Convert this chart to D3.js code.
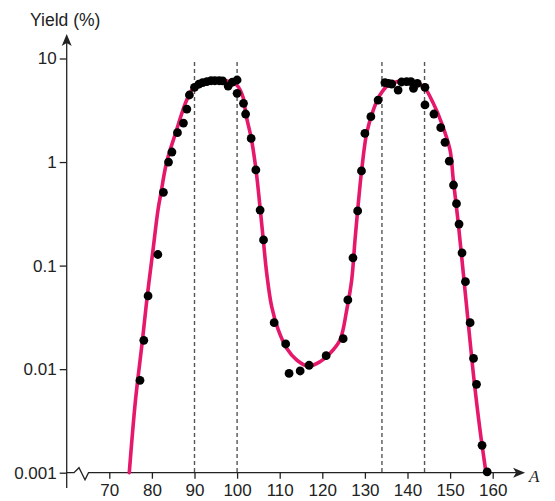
<!DOCTYPE html>
<html>
<head>
<meta charset="utf-8">
<script src="https://cdn.jsdelivr.net/npm/d3@7"></script>
<style>
  html, body { margin: 0; padding: 0; background: #fff; }
  svg { display: block; }
  text { font-family: "Liberation Sans", Arial, sans-serif; fill: #222; }
</style>
</head>
<body>
<svg id="chart" width="555" height="501"></svg>
<script>
// Fission-product mass yield: measured points and fitted curve
const dotA = [77.2, 78.1, 79.1, 81.4, 82.7, 83.9, 84.7, 86.0, 87.4, 88.2, 88.8,
  90.0, 91.0, 91.9, 92.9, 93.9, 94.8, 95.8, 96.6, 97.9, 98.9, 100.0,
  100.0, 101.5, 102.0, 103.3, 104.4, 105.4, 106.2, 108.7, 111.4, 112.2,
  114.8, 116.9, 120.9, 124.9, 126.0, 127.2, 128.3, 129.2, 130.0, 131.4,
  133.1, 134.7, 135.5, 136.3, 137.8, 138.6, 139.8, 140.8, 141.4, 142.3,
  144.1, 144.1, 146.2, 147.8, 148.8, 149.8, 150.8, 151.5, 152.1, 152.8,
  153.6, 154.7, 155.5, 156.2, 157.5, 158.7];
const dotYield = [0.0078, 0.019, 0.051, 0.128, 0.51, 1.0, 1.25, 1.92, 2.38, 3.25, 4.44,
  5.27, 5.64, 5.84, 5.97, 6.1, 6.1, 6.1, 6.07, 5.42, 5.9, 6.2,
  4.61, 3.69, 2.91, 1.69, 0.84, 0.344, 0.177, 0.0281, 0.0175, 0.0091,
  0.0096, 0.0109, 0.0135, 0.0197, 0.0466, 0.119, 0.337, 0.82, 1.89, 2.74,
  3.97, 5.84, 5.76, 5.67, 4.96, 5.93, 5.97, 5.97, 5.15, 5.76,
  5.27, 3.56, 2.91, 2.15, 1.55, 1.02, 0.60, 0.396, 0.252, 0.133,
  0.070, 0.0281, 0.0127, 0.00714, 0.00184, 0.00102];

const curveA = [74.69, 76.15, 77.79, 78.92, 80.14, 81.43, 82.14, 83.47, 85.59, 88.17,
  89.88, 92.86, 95.99, 98.33, 99.91, 101.38, 102.09, 103.33, 104.44, 105.45,
  106.15, 106.95, 108.12, 109.67, 111.64, 113.99, 116.71, 119.46, 121.81, 124.15,
  125.73, 126.9, 127.68, 128.35, 129.25, 130.42, 131.97, 133.54, 135.49, 137.46,
  139.81, 142.16, 144.1, 146.06, 148.03, 149.98, 150.75, 151.92, 153.1, 154.27,
  155.45, 157.02, 158.43];
const curveYield = [0.001, 0.00503, 0.0191, 0.0512, 0.129, 0.344, 0.506, 1.0, 1.92, 3.97,
  5.27, 5.97, 6.2, 5.97, 5.55, 4.25, 2.85, 1.69, 0.84, 0.344,
  0.177, 0.0843, 0.0401, 0.0239, 0.0159, 0.01225, 0.0107, 0.0118, 0.0142, 0.0191,
  0.0372, 0.0726, 0.177, 0.36, 0.84, 1.9, 3.18, 4.44, 5.55, 5.97,
  6.2, 5.84, 5.15, 3.69, 2.37, 1.31, 0.67, 0.256, 0.0843, 0.0277,
  0.0091, 0.00258, 0.001];

// Mass-number bounds marking the two peak regions
const peakBounds = [90, 100, 134, 144];

const xTicks = [70, 80, 90, 100, 110, 120, 130, 140, 150, 160];
const yTicks = [10, 1, 0.1, 0.01, 0.001];
const yTickLabels = ["10", "1", "0.1", "0.01", "0.001"];

const svg = d3.select("#chart");

const x = d3.scaleLinear().domain([60, 160]).range([66.7, 492.7]);
const y = d3.scaleLog().domain([0.001, 10]).range([472.7, 58.5]);

const axisColor = "#222";
const x0 = x(60), yBase = y(0.001);

// dashed peak-boundary guides
svg.append("g")
  .selectAll("line")
  .data(peakBounds)
  .join("line")
  .attr("x1", d => x(d)).attr("x2", d => x(d))
  .attr("y1", 62).attr("y2", yBase)
  .attr("stroke", "#555")
  .attr("stroke-width", 1.4)
  .attr("stroke-dasharray", "4,3");

// y axis
const yAxis = d3.axisLeft(y)
  .tickValues(yTicks)
  .tickFormat((d, i) => yTickLabels[i])
  .tickSize(7)
  .tickPadding(3);
const gy = svg.append("g").attr("transform", `translate(${x0},0)`).call(yAxis);
gy.select(".domain").remove();
gy.selectAll(".tick line").attr("stroke", axisColor).attr("stroke-width", 1.3);
gy.selectAll(".tick text")
  .attr("font-size", 17)
  .attr("font-family", "Liberation Sans, Arial, sans-serif")
  .attr("fill", "#222");

svg.append("line")
  .attr("x1", x0).attr("x2", x0)
  .attr("y1", 40).attr("y2", 488)
  .attr("stroke", axisColor).attr("stroke-width", 1.3);
svg.append("path")
  .attr("d", `M${x0},34 L${x0 + 5},46 L${x0},43 L${x0 - 5},46 Z`)
  .attr("fill", axisColor);

// x axis
const xAxis = d3.axisBottom(x)
  .tickValues(xTicks)
  .tickSize(6)
  .tickPadding(5);
const gx = svg.append("g").attr("transform", `translate(0,${yBase})`).call(xAxis);
gx.select(".domain").remove();
gx.selectAll(".tick line").attr("stroke", axisColor).attr("stroke-width", 1.3);
gx.selectAll(".tick text")
  .attr("font-size", 17)
  .attr("font-family", "Liberation Sans, Arial, sans-serif")
  .attr("fill", "#222");

// axis line with a break mark near the origin
svg.append("path")
  .attr("d", `M${x0},${yBase} L74,${yBase} L79,${yBase - 5} L85,${yBase + 7} L88.5,${yBase} L${x(165.5)},${yBase}`)
  .attr("fill", "none")
  .attr("stroke", axisColor).attr("stroke-width", 1.3);
const xe = x(167.6);
svg.append("path")
  .attr("d", `M${xe},${yBase} L${xe - 12},${yBase - 5} L${xe - 9},${yBase} L${xe - 12},${yBase + 5} Z`)
  .attr("fill", axisColor);

// fitted curve
const line = d3.line()
  .x(d => x(d[0]))
  .y(d => y(d[1]))
  .curve(d3.curveCatmullRom.alpha(0.5));
svg.append("path")
  .datum(curveA.map((a, i) => [a, curveYield[i]]))
  .attr("d", line)
  .attr("fill", "none")
  .attr("stroke", "#e6186b")
  .attr("stroke-width", 3.6)
  .attr("stroke-linecap", "round");

// measured yields
svg.append("g")
  .selectAll("circle")
  .data(dotA.map((a, i) => [a, dotYield[i]]))
  .join("circle")
  .attr("cx", d => x(d[0]))
  .attr("cy", d => y(d[1]))
  .attr("r", 4.4)
  .attr("fill", "#000");

// axis titles
svg.append("text")
  .attr("x", 30).attr("y", 26)
  .attr("font-size", 17.5)
  .text("Yield (%)");
svg.append("text")
  .attr("x", 529).attr("y", 482)
  .attr("font-size", 17)
  .attr("font-style", "italic")
  .style("font-family", "Liberation Serif, Times New Roman, serif")
  .text("A");
</script>
</body>
</html>
